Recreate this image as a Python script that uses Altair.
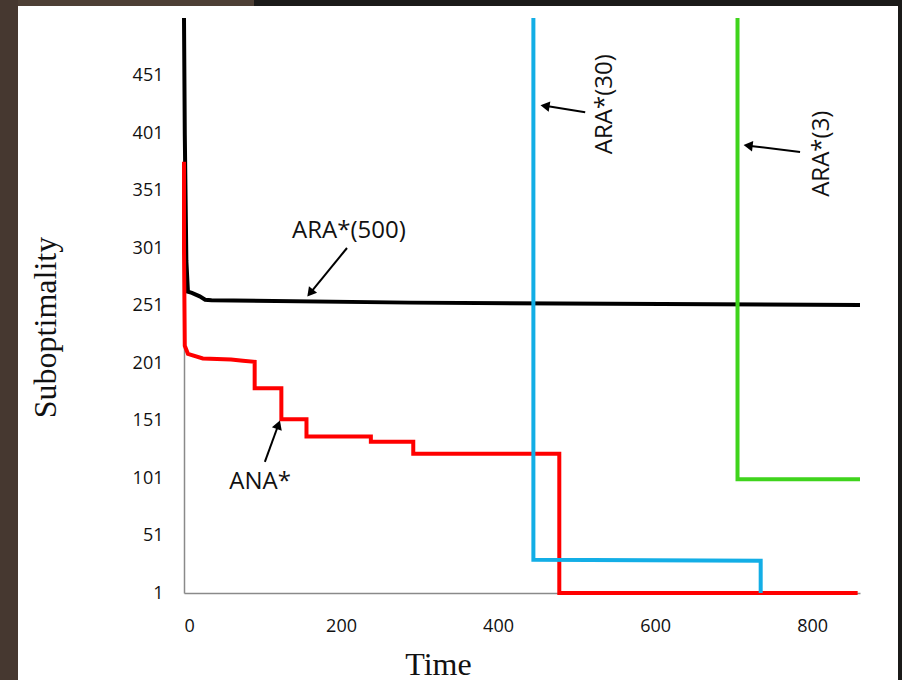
import altair as alt
import pandas as pd

# ---- data ----
black_t = [0, 1, 3, 5, 10, 20, 27, 35, 288, 861]
black_v = [501, 400, 290, 263, 262, 259, 256, 255.5, 253.5, 251.5]

red_t = [0, 0, 1, 5, 24, 60, 75, 90, 90, 124, 124, 156, 156, 238, 238, 292, 292, 478, 478, 858]
red_v = [376, 300, 216, 209, 205, 204, 203, 202, 179, 179, 152, 152, 137, 137, 132.5, 132.5, 122, 122, 1, 1]

blue_t = [445, 445, 734.5, 734.5]
blue_v = [501, 30, 29, 1]

green_t = [705, 705, 861]
green_v = [501, 100, 100]

series_names = ["ARA*(500)", "ANA*", "ARA*(30)", "ARA*(3)"]
series_colors = ["#000000", "#ff0000", "#13aee6", "#3fd41c"]

y_ticks = [1, 51, 101, 151, 201, 251, 301, 351, 401, 451]
x_ticks = [0, 200, 400, 600, 800]

# annotations: label text position, arrow tail, arrow head centre, head angle
ann_text = ["ARA*(500)", "ANA*", "ARA*(30)", "ARA*(3)"]
ann_tx = [210, 97, 536, 813]
ann_tv = [316, 97.5, 426, 383]
ann_angle_text = [0, 0, 270, 270]
arrow_tail_t = [207.6, 103, 511, 784.7]
arrow_tail_v = [301, 115, 419, 384.5]
arrow_head_t = [160.7, 120.2, 459.8, 718.5]
arrow_head_v = [261.8, 147.3, 424.6, 390.0]
arrow_head_angle = [219, 20, 279, 277]

# ---- tables ----
rows = []
for name, ts, vs in zip(series_names, [black_t, red_t, blue_t, green_t],
                        [black_v, red_v, blue_v, green_v]):
    for i, (t, v) in enumerate(zip(ts, vs)):
        rows.append({"series": name, "t": t, "v": v, "o": i})
lines_df = pd.DataFrame(rows)

arrow_rows = []
for i in range(len(ann_text)):
    arrow_rows.append({"id": i, "t": arrow_tail_t[i], "v": arrow_tail_v[i], "o": 0})
    arrow_rows.append({"id": i, "t": arrow_head_t[i], "v": arrow_head_v[i], "o": 1})
arrow_df = pd.DataFrame(arrow_rows)

head_df = pd.DataFrame({"t": arrow_head_t, "v": arrow_head_v, "ang": arrow_head_angle})
text_df = pd.DataFrame({"label": ann_text, "t": ann_tx, "v": ann_tv, "ang": ann_angle_text})

x_scale = alt.Scale(domain=[0, 861], nice=False, zero=False)
y_scale = alt.Scale(domain=[1, 501], nice=False, zero=False)

x_axis = alt.Axis(values=x_ticks, title="Time", grid=False, ticks=False, tickSize=0,
                  labelFont="Open Sans", labelFontSize=18, labelColor="#111111",
                  labelPadding=24, domainColor="#8a8a8a", domainWidth=1.5,
                  titleFont="Liberation Serif", titleFontSize=32, titleFontWeight="normal",
                  titleColor="#111111", titleX=254, titleY=81, titleBaseline="alphabetic",
                  titleAlign="center")
y_axis = alt.Axis(values=y_ticks, title="Suboptimality", grid=False, ticks=False, tickSize=0,
                  labelFont="Open Sans", labelFontSize=18, labelColor="#111111",
                  labelPadding=21, domainColor="#8a8a8a", domainWidth=1.5,
                  titleFont="Liberation Serif", titleFontSize=32, titleFontWeight="normal",
                  titleColor="#111111", titleX=-139, titleY=309, titleAngle=270,
                  titleAlign="center", titleBaseline="middle")

one = pd.DataFrame({"a": [0]})
dark = "#1b1a19"
brown = "#463830"
frame = alt.layer(
    alt.Chart(one).mark_rect(color=dark).encode(
        x=alt.value(-184), x2=alt.value(718), y=alt.value(-18), y2=alt.value(-12)),
    alt.Chart(one).mark_rect(color="#4d3f35").encode(
        x=alt.value(-184), x2=alt.value(70), y=alt.value(-18), y2=alt.value(-12)),
    alt.Chart(one).mark_rect(color=brown).encode(
        x=alt.value(-184), x2=alt.value(-166), y=alt.value(-18), y2=alt.value(662)),
    alt.Chart(one).mark_rect(color=dark).encode(
        x=alt.value(714), x2=alt.value(718), y=alt.value(-18), y2=alt.value(662)),
)

lines = alt.Chart(lines_df).mark_line(strokeWidth=4, clip=False).encode(
    x=alt.X("t:Q", scale=x_scale, axis=x_axis),
    y=alt.Y("v:Q", scale=y_scale, axis=y_axis),
    color=alt.Color("series:N", scale=alt.Scale(domain=series_names, range=series_colors),
                    legend=None),
    order="o:Q",
)

arrows = alt.Chart(arrow_df).mark_line(strokeWidth=2, color="#000000").encode(
    x=alt.X("t:Q", scale=x_scale), y=alt.Y("v:Q", scale=y_scale),
    detail="id:N", order="o:Q")

heads = alt.Chart(head_df).mark_point(shape="triangle-up", filled=True, size=110,
                                      color="#000000", opacity=1).encode(
    x=alt.X("t:Q", scale=x_scale), y=alt.Y("v:Q", scale=y_scale),
    angle=alt.Angle("ang:Q", scale=None))

texts_h = alt.Chart(text_df).transform_filter("datum.ang == 0").mark_text(
    font="Open Sans", fontSize=24, color="#111111", align="center", baseline="middle").encode(
    x=alt.X("t:Q", scale=x_scale), y=alt.Y("v:Q", scale=y_scale), text="label:N")
texts_v = alt.Chart(text_df).transform_filter("datum.ang != 0").mark_text(
    font="Open Sans", fontSize=24, color="#111111", align="center", baseline="middle",
    angle=270).encode(
    x=alt.X("t:Q", scale=x_scale), y=alt.Y("v:Q", scale=y_scale), text="label:N")

chart = alt.layer(frame, lines, arrows, heads, texts_h, texts_v).properties(
    width=676, height=575,
    padding={"left": 184, "right": 42, "top": 18, "bottom": 87},
    autosize=alt.AutoSizeParams(type="none"),
    background="white",
).configure_view(stroke=None)

chart.save("out.html", embed_options={"renderer": "svg", "actions": False})
